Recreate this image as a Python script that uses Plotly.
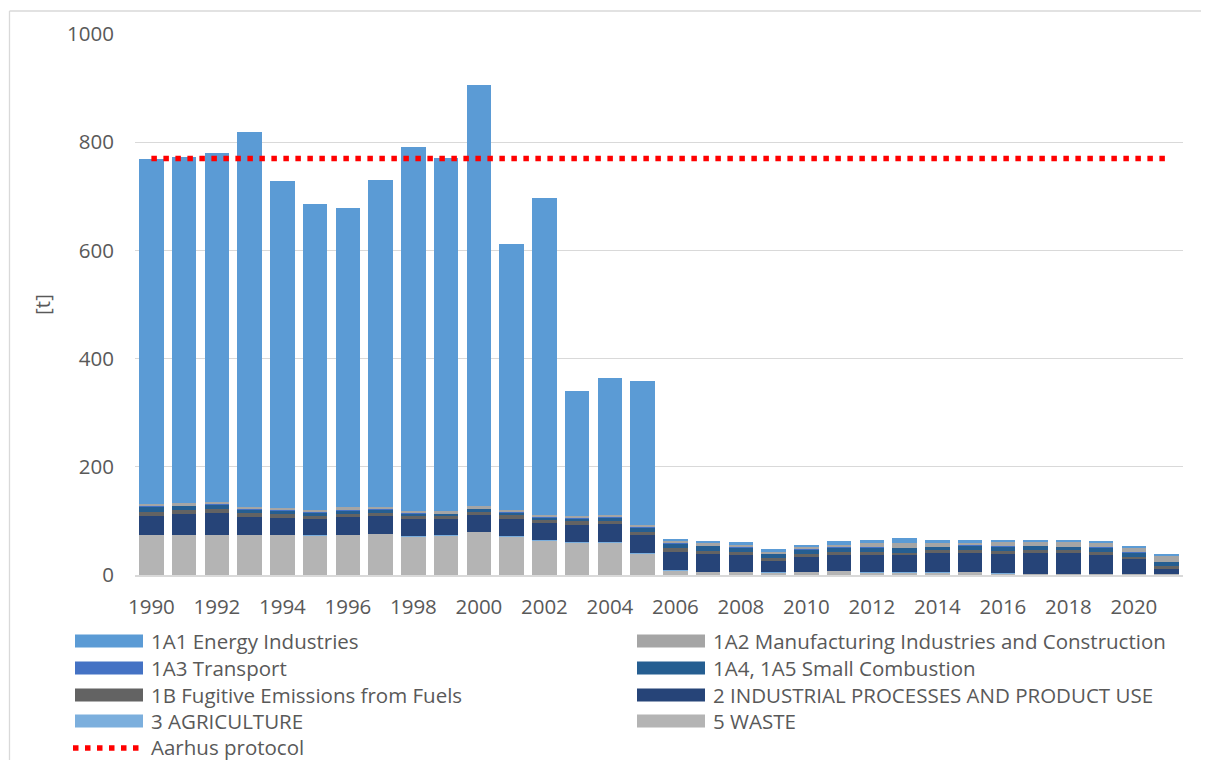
import plotly.graph_objects as go

years = list(range(1990, 2022))

# values in t (stack order bottom -> top)
waste_5 = [74, 74, 74, 74, 74, 73, 74, 76, 72, 73, 79.5, 71, 63.5, 60, 60, 40,
           9, 6, 6, 5, 6, 7.5, 5.5, 5.5, 5, 6, 3, 2.5, 2.5, 2.5, 2.5, 2]
agriculture_3 = [0.3, 0.3, 0.3, 0.3, 0.3, 0.3, 0.3, 0.3, 0.3, 0.3, 0.3, 0.3, 0.3, 0.3, 0.3, 0.3,
                 0.2, 0.2, 0.2, 0.2, 0.2, 0.2, 0.2, 0.2, 0.2, 0.2, 0.2, 0.2, 0.2, 0.2, 0.2, 0.2]
ippu_2 = [35, 39, 41, 33, 31, 30, 32, 33, 31, 30, 32, 33, 31.5, 32, 34, 33,
          34, 33, 30, 21, 27, 29.5, 31.5, 30.5, 36, 35, 36.5, 38, 38.5, 35, 27.5, 9]
fugitive_1b = [8, 6, 6, 7, 7, 6, 6, 5, 5, 5.5, 5, 6, 7, 7, 6, 6,
               6, 5, 6, 5, 5, 5, 5, 5, 4.5, 5.5, 5.5, 5, 4.5, 5, 3.5, 5.5]
small_comb_1a4 = [9, 8.5, 9, 7, 7, 6, 7, 7, 5, 4, 5.5, 5, 4, 5, 6, 8.5,
                  9, 10, 8.5, 8.5, 9.5, 9, 9, 9, 6.5, 8.5, 8, 8, 6.5, 8, 8.5, 7.5]
transport_1a3 = [0.5, 0.5, 0.5, 0.5, 0.5, 0.5, 0.5, 0.5, 0.5, 0.5, 0.5, 0.5, 0.5, 0.5, 0.5, 0.5,
                 0.3, 0.3, 0.3, 0.3, 0.3, 0.3, 0.3, 0.3, 0.3, 0.3, 0.3, 0.3, 0.3, 0.3, 0.3, 0.3]
manuf_1a2 = [5, 5.5, 5, 4, 4, 5, 5, 4, 5, 5, 4, 5, 4, 4, 4.5, 4,
             4, 4, 5, 2.5, 4.5, 4.5, 8, 8.5, 7.5, 4.5, 7.5, 7.5, 9.5, 8.5, 8, 12]
energy_1a1 = [638, 638, 645, 693, 605, 565, 553, 604, 672, 653, 779, 491, 586, 231, 253, 267,
              4, 4, 5, 5.5, 3.5, 6.5, 4.5, 10, 4, 5, 3.5, 3.5, 3.5, 4, 2.5, 3]
aarhus = [770] * len(years)

series = [
    ("5 WASTE", waste_5, "#B4B4B4"),
    ("3 AGRICULTURE", agriculture_3, "#7CAFDD"),
    ("2 INDUSTRIAL PROCESSES AND PRODUCT USE", ippu_2, "#264478"),
    ("1B Fugitive Emissions from Fuels", fugitive_1b, "#636363"),
    ("1A4, 1A5 Small Combustion", small_comb_1a4, "#255E91"),
    ("1A3 Transport", transport_1a3, "#4472C4"),
    ("1A2 Manufacturing Industries and Construction", manuf_1a2, "#A5A5A5"),
    ("1A1 Energy Industries", energy_1a1, "#5B9BD5"),
]
colors = {n: c for n, _, c in series}

fig = go.Figure()
for name, vals, col in series:
    fig.add_trace(go.Bar(x=years, y=vals, name=name, marker_color=col,
                         marker_line_width=0, showlegend=False))
fig.add_trace(go.Scatter(x=years, y=aarhus, name="Aarhus protocol", mode="lines",
                         line=dict(color="#FF0000", width=5.5, dash="5.5px,6.5px"),
                         showlegend=False))

W, H = 1209, 760
OFF = 8  # page body margin
# plot area in screen pixels
L, R, T, B = 135, 1183, 34, 575
FONT = "Open Sans"
GREY = "#595959"


def px(x):
    return (x - L) / (R - L)


def py(y):
    return (B - y) / (B - T)


shapes = [
    # chart-area border (left and top)
    dict(type="line", xref="paper", yref="paper", x0=px(9.5), x1=px(9.5), y0=py(11), y1=py(800),
         line=dict(color="#D9D9D9", width=1.3)),
    dict(type="line", xref="paper", yref="paper", x0=px(9.5), x1=px(1260), y0=py(11), y1=py(11),
         line=dict(color="#D9D9D9", width=1.3)),
]
annotations = []

legend_items = [
    ("1A1 Energy Industries", 75, 641),
    ("1A2 Manufacturing Industries and Construction", 637, 641),
    ("1A3 Transport", 75, 668),
    ("1A4, 1A5 Small Combustion", 637, 668),
    ("1B Fugitive Emissions from Fuels", 75, 695),
    ("2 INDUSTRIAL PROCESSES AND PRODUCT USE", 637, 695),
    ("3 AGRICULTURE", 75, 721),
    ("5 WASTE", 637, 721),
]
for name, x0, yc in legend_items:
    shapes.append(dict(type="rect", xref="paper", yref="paper",
                       x0=px(x0), x1=px(x0 + 68), y0=py(yc + 6.5), y1=py(yc - 6.5),
                       fillcolor=colors[name], line=dict(width=0)))
    annotations.append(dict(text=name, xref="paper", yref="paper", x=px(x0 + 74), y=py(yc),
                            xanchor="left", yanchor="middle", showarrow=False,
                            font=dict(family=FONT, size=20.5, color=GREY)))
shapes.append(dict(type="line", xref="paper", yref="paper", x0=px(73), x1=px(143),
                   y0=py(748), y1=py(748),
                   line=dict(color="#FF0000", width=5.5, dash="5.5px,6.5px")))
annotations.append(dict(text="Aarhus protocol", xref="paper", yref="paper", x=px(149), y=py(747),
                        xanchor="left", yanchor="middle", showarrow=False,
                        font=dict(family=FONT, size=20.5, color=GREY)))

fig.update_layout(
    width=W, height=H,
    margin=dict(l=L - OFF, r=W - (R - OFF), t=T - OFF, b=H - (B - OFF)),
    barmode="stack", bargap=0.25,
    plot_bgcolor="white", paper_bgcolor="white",
    font=dict(family=FONT, size=20, color=GREY),
    shapes=shapes, annotations=annotations,
    showlegend=False,
)
fig.update_xaxes(range=[1989.5, 2021.5], tickmode="linear", tick0=1990, dtick=2,
                 showgrid=False, showline=True, linecolor="#D9D9D9", linewidth=1.5,
                 ticks="outside", ticklen=13, tickcolor="rgba(0,0,0,0)",
                 tickfont=dict(family=FONT, size=20.5, color=GREY))
fig.update_yaxes(range=[0, 1000], tickvals=[0, 200, 400, 600, 800, 1000],
                 showgrid=True, gridcolor="#D9D9D9", gridwidth=1.3, zeroline=False,
                 ticks="outside", ticklen=16, tickcolor="rgba(0,0,0,0)",
                 tickfont=dict(family=FONT, size=20.5, color=GREY),
                 title=dict(text="[t]", standoff=10, font=dict(family=FONT, size=20.5, color=GREY)))

fig.write_html("out.html")
